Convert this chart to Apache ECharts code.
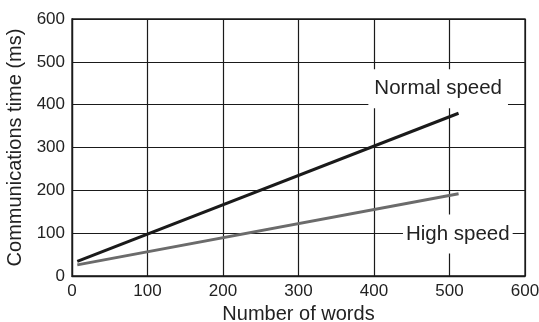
<!DOCTYPE html>
<html>
<head>
<meta charset="utf-8">
<script src="https://cdn.jsdelivr.net/npm/echarts@6/dist/echarts.min.js"></script>
<style>html,body{margin:0;padding:0;background:#fff}#c{width:539px;height:322px}</style>
</head>
<body>
<div id="c"></div>
<script>
const words = [7, 512];
const normalTime = [34, 380];
const highTime = [26, 192];
const xTicks = [0, 100, 200, 300, 400, 500, 600];
const yTicks = [0, 100, 200, 300, 400, 500, 600];
const labelNames = ['Normal speed', 'High speed'];
const labelAt = [[485, 437], [511, 98]];

const font = 'Liberation Sans, Arial, Helvetica, sans-serif';
const chart = echarts.init(document.getElementById('c'));
function pairs(xs, ys) { return xs.map((x, i) => [x, ys[i]]); }
chart.setOption({
  animation: false,
  grid: { left: 72, top: 19, right: 14, bottom: 46, containLabel: false, outerBoundsMode: 'none',
    show: true, borderColor: '#1a1a1a', borderWidth: 1.3 },
  xAxis: {
    type: 'value', min: xTicks[0], max: xTicks[xTicks.length - 1], interval: 100,
    name: 'Number of words', nameLocation: 'middle', nameGap: 26,
    nameTextStyle: { fontFamily: font, fontSize: 20, color: '#222' },
    axisLine: { show: true, lineStyle: { color: '#1a1a1a', width: 1.3 } },
    axisTick: { show: false },
    axisLabel: { fontFamily: font, fontSize: 17, color: '#222', margin: 7 },
    splitLine: { show: true, lineStyle: { color: '#1a1a1a', width: 1.2 } }
  },
  yAxis: {
    type: 'value', min: yTicks[0], max: yTicks[yTicks.length - 1], interval: 100,
    name: 'Communications time (ms)', nameLocation: 'middle', nameGap: 47,
    nameTextStyle: { fontFamily: font, fontSize: 20, color: '#222' },
    axisLine: { show: true, lineStyle: { color: '#1a1a1a', width: 1.3 } },
    axisTick: { show: false },
    axisLabel: { fontFamily: font, fontSize: 17, color: '#222', margin: 7 },
    splitLine: { show: true, lineStyle: { color: '#1a1a1a', width: 1.2 } }
  },
  series: [
    {
      type: 'line', data: pairs(words, normalTime), symbol: 'none',
      lineStyle: { color: '#1a1a1a', width: 3 }, z: 3,
      markPoint: {
        symbol: 'rect', symbolSize: 0, silent: true, z: 2,
        data: [{ coord: labelAt[0], value: labelNames[0] }],
        label: { show: true, position: 'inside', formatter: labelNames[0], fontFamily: font, fontSize: 20.5,
          color: '#222', backgroundColor: '#fff', padding: [9, 6] }
      }
    },
    {
      type: 'line', data: pairs(words, highTime), symbol: 'none',
      lineStyle: { color: '#6b6b6b', width: 3 }, z: 3,
      markPoint: {
        symbol: 'rect', symbolSize: 0, silent: true, z: 2,
        data: [{ coord: labelAt[1], value: labelNames[1] }],
        label: { show: true, position: 'inside', formatter: labelNames[1], fontFamily: font, fontSize: 20.5,
          color: '#222', backgroundColor: '#fff', padding: [9, 3] }
      }
    }
  ]
});
</script>
</body>
</html>
